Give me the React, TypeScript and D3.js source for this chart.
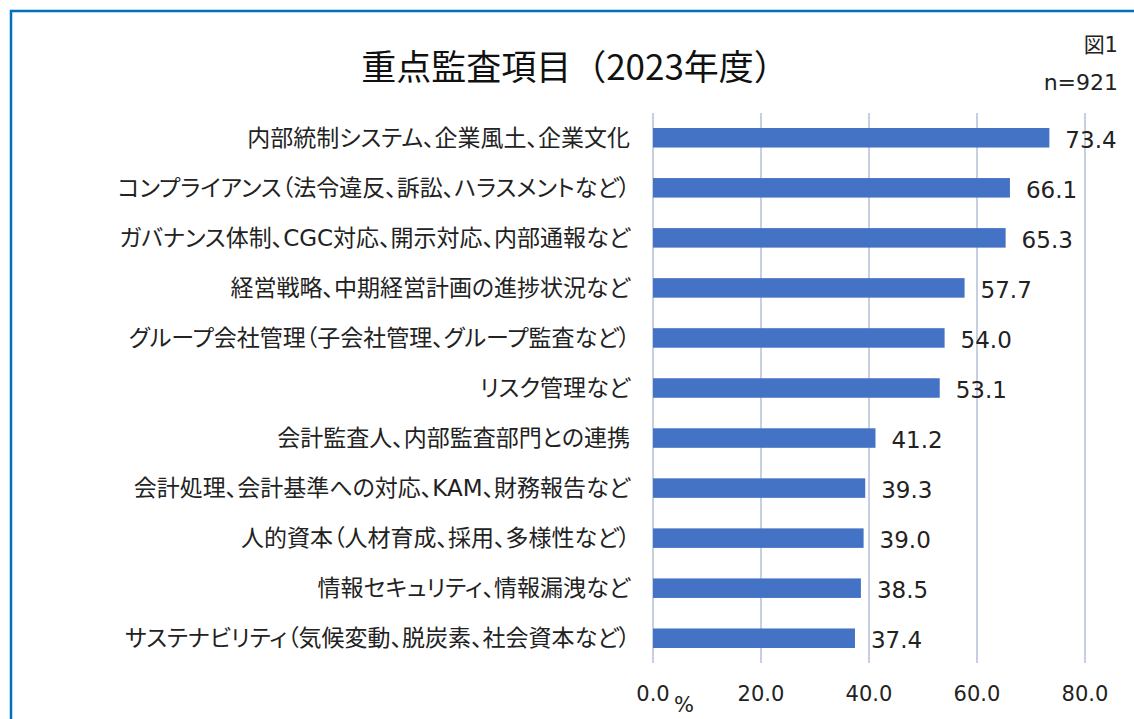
import React from "react";
import * as d3 from "d3";

const categories: string[] = [
  "内部統制システム、企業風土、企業文化",
  "コンプライアンス（法令違反、訴訟、ハラスメントなど）",
  "ガバナンス体制、CGC対応、開示対応、内部通報など",
  "経営戦略、中期経営計画の進捗状況など",
  "グループ会社管理（子会社管理、グループ監査など）",
  "リスク管理など",
  "会計監査人、内部監査部門との連携",
  "会計処理、会計基準への対応、KAM、財務報告など",
  "人的資本（人材育成、採用、多様性など）",
  "情報セキュリティ、情報漏洩など",
  "サステナビリティ（気候変動、脱炭素、社会資本など）",
];
const values: number[] = [73.4, 66.1, 65.3, 57.7, 54.0, 53.1, 41.2, 39.3, 39.0, 38.5, 37.4];
const xTicks: number[] = [0, 20, 40, 60, 80];
const title = "重点監査項目（2023年度）";
const figLabel = "図1";
const nLabel = "n=921";
const unitLabel = "%";

const W = 1134;
const H = 719;
const FONT = "'DejaVu Sans', 'Noto Sans CJK JP', sans-serif";

export default function App() {
  const x = d3.scaleLinear().domain([0, 80]).range([653, 1085]);
  const y = d3.scaleBand<string>().domain(categories).range([113, 663]).paddingInner(0.61).paddingOuter(0.3);
  const bw = y.bandwidth();
  return (
    <svg width={W} height={H} style={{ position: "absolute", left: 0, top: 0 }} fontFamily={FONT}>
      <rect x={0} y={0} width={W} height={H} fill="#fff" />
      <rect x={11} y={11} width={W + 20} height={H + 20} fill="none" stroke="#0070C0" strokeWidth={2.5} />
      <text x={575} y={80} textAnchor="middle" fontSize={35} fill="#111" fontFamily="'Noto Sans CJK JP', sans-serif">{title}</text>
      <text x={1118} y={52} textAnchor="end" fontSize={21} fill="#222">{figLabel}</text>
      <text x={1118} y={90} textAnchor="end" fontSize={22} fill="#222">{nLabel}</text>
      {xTicks.map((t) => (
        <line key={"g" + t} x1={x(t)} x2={x(t)} y1={113} y2={663} stroke="#B4C1D9" strokeWidth={1.5} />
      ))}
      {categories.map((c, i) => (
        <g key={c}>
          <rect x={x(0)} y={y(c)!} width={x(values[i]) - x(0)} height={bw} fill="#4472C4" />
          <text x={630} y={y(c)! + bw / 2} dy="0.35em" textAnchor="end" fontSize={23} fill="#222" style={{ fontFeatureSettings: "'palt'" }}>{c}</text>
          <text x={x(values[i]) + 16} y={y(c)! + bw / 2 + 2} dy="0.35em" fontSize={23} fill="#222">{values[i].toFixed(1)}</text>
        </g>
      ))}
      {xTicks.map((t) => (
        <text key={"t" + t} x={x(t)} y={694} dy="0.35em" textAnchor="middle" fontSize={21} fill="#222">{t.toFixed(1)}</text>
      ))}
      <text x={684} y={705} dy="0.35em" textAnchor="middle" fontSize={21} fill="#222">{unitLabel}</text>
    </svg>
  );
}
